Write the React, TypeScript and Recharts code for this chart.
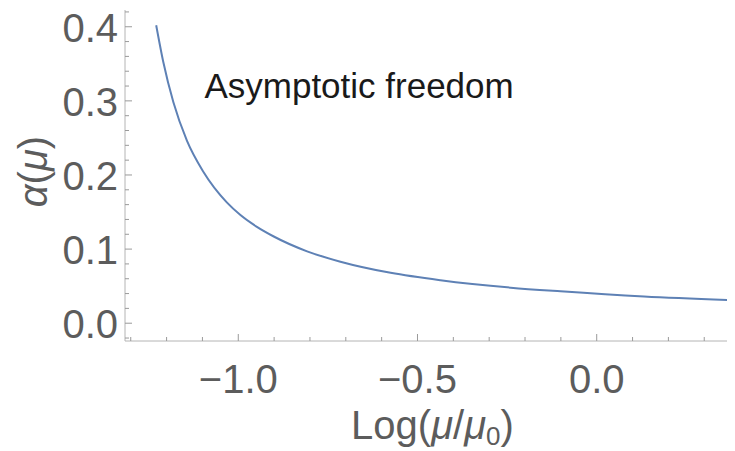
import React from 'react';
import { LineChart, Line, XAxis, YAxis, ReferenceDot } from 'recharts';

// curve: log(mu/mu0) vs alpha(mu)
const logMu = [-1.229, -1.209, -1.181, -1.143, -1.097, -1.032, -0.994, -0.948, -0.901, -0.808, -0.715, -0.575, -0.436, -0.24, -0.101, 0.132, 0.383];
const alphaValues = [0.402, 0.352, 0.298, 0.246, 0.204, 0.163, 0.146, 0.130, 0.117, 0.097, 0.083, 0.068, 0.058, 0.048, 0.043, 0.036, 0.031];

const xTicks = [-1.3, -1.2, -1.1, -1.0, -0.9, -0.8, -0.7, -0.6, -0.5, -0.4, -0.3, -0.2, -0.1, 0.0, 0.1, 0.2, 0.3];
const xMajor = [-1.0, -0.5, 0.0];
const xLabels = ['\u22121.0', '\u22120.5', '0.0'];

const yTicks = [-0.02, 0, 0.02, 0.04, 0.06, 0.08, 0.1, 0.12, 0.14, 0.16, 0.18, 0.2, 0.22, 0.24, 0.26, 0.28, 0.3, 0.32, 0.34, 0.36, 0.38, 0.4, 0.42];
const yMajor = [0, 0.1, 0.2, 0.3, 0.4];
const yLabels = ['0.0', '0.1', '0.2', '0.3', '0.4'];

const data = logMu.map((x, i) => ({ x, alpha: alphaValues[i] }));

const FONT = '"Liberation Sans", Arial, Helvetica, sans-serif';
const LABEL_GRAY = '#5c5c5c';
const TICK_GRAY = '#9a9a9a';
const FRAME_GRAY = '#b4b4b4';

const majorIndex = (list: number[], v: number) => list.findIndex(m => Math.abs(m - v) < 1e-6);

// side: which frame edge the tick sits on; ticks point into the plot
const makeTick = (side: 'bottom' | 'top' | 'left' | 'right', majors: number[], labels?: string[]) => (props: any) => {
  const { x, y, payload } = props;
  const idx = majorIndex(majors, payload.value);
  const len = idx >= 0 ? 7 : 4;
  let line;
  if (side === 'bottom') line = <line x1={x} x2={x} y1={y} y2={y - len} stroke={TICK_GRAY} />;
  else if (side === 'top') line = <line x1={x} x2={x} y1={y} y2={y + len} stroke={TICK_GRAY} />;
  else if (side === 'left') line = <line x1={x} x2={x + len} y1={y} y2={y} stroke={TICK_GRAY} />;
  else line = <line x1={x} x2={x - len} y1={y} y2={y} stroke={TICK_GRAY} />;
  return (
    <g>
      {line}
      {labels && idx >= 0 && side === 'bottom' && (
        <text x={x} y={y + 52} textAnchor="middle" fontSize={40} fontFamily={FONT} fill={LABEL_GRAY}>
          {labels[idx]}
        </text>
      )}
      {labels && idx >= 0 && side === 'left' && (
        <text x={x - 7} y={y + 15} textAnchor="end" fontSize={40} fontFamily={FONT} fill={LABEL_GRAY}>
          {labels[idx]}
        </text>
      )}
    </g>
  );
};

const XTitle = (props: any) => {
  const { viewBox } = props;
  return (
    <text x={viewBox.x + viewBox.width / 2 + 3} y={viewBox.y + 98} textAnchor="middle" fontSize={40} fontFamily={FONT} fill={LABEL_GRAY}>
      Log(<tspan fontStyle="italic">μ</tspan>/<tspan fontStyle="italic">μ</tspan>
      <tspan fontSize={26} dy={6}>0</tspan>
      <tspan dy={-6}>)</tspan>
    </text>
  );
};

const YTitle = (props: any) => {
  const { viewBox } = props;
  const cx = 47;
  const cy = viewBox.y + viewBox.height / 2 - 4;
  return (
    <text x={cx} y={cy} transform={`rotate(-90, ${cx}, ${cy})`} textAnchor="middle" fontSize={40} fontFamily={FONT} fill={LABEL_GRAY}>
      <tspan fontStyle="italic">α</tspan>(<tspan fontStyle="italic">μ</tspan>)
    </text>
  );
};

export default function App() {
  return (
    <div style={{ width: 735, height: 451, margin: '-8px 0 0 -8px' }}>
      <LineChart width={735} height={451} data={data} margin={{ top: 10, right: 1, bottom: 0, left: 0 }}>
        <XAxis
          xAxisId="main"
          dataKey="x"
          type="number"
          domain={[-1.316, 0.383]}
          allowDataOverflow
          ticks={xTicks}
          interval={0}
          height={110}
          tickSize={0}
          tickMargin={0}
          tickLine={false}
          axisLine={{ stroke: FRAME_GRAY }}
          tick={makeTick('bottom', xMajor, xLabels)}
          label={XTitle}
        />
        <XAxis
          xAxisId="top"
          orientation="top"
          dataKey="x"
          type="number"
          domain={[-1.316, 0.383]}
          allowDataOverflow
          ticks={xTicks}
          interval={0}
          height={0}
          tickSize={0}
          tickMargin={0}
          tickLine={false}
          axisLine={{ stroke: FRAME_GRAY }}
          tick={makeTick('top', xMajor)}
        />
        <YAxis
          yAxisId="main"
          type="number"
          domain={[-0.024, 0.4226]}
          allowDataOverflow
          ticks={yTicks}
          interval={0}
          width={125}
          tickSize={0}
          tickMargin={0}
          tickLine={false}
          axisLine={{ stroke: FRAME_GRAY }}
          tick={makeTick('left', yMajor, yLabels)}
          label={YTitle}
        />
        <YAxis
          yAxisId="right"
          orientation="right"
          type="number"
          domain={[-0.024, 0.4226]}
          allowDataOverflow
          ticks={yTicks}
          interval={0}
          width={0}
          tickSize={0}
          tickMargin={0}
          tickLine={false}
          axisLine={{ stroke: FRAME_GRAY }}
          tick={makeTick('right', yMajor)}
        />
        <Line
          xAxisId="main"
          yAxisId="main"
          type="monotone"
          dataKey="alpha"
          stroke="#5e81b5"
          strokeWidth={2}
          dot={false}
          isAnimationActive={false}
        />
        <ReferenceDot
          xAxisId="main"
          yAxisId="main"
          x={-0.663}
          y={0.3207}
          r={0}
          fill="none"
          stroke="none"
          label={{ value: 'Asymptotic freedom', position: 'center', fontSize: 35, fontFamily: FONT, fill: '#1a1a1a' }}
        />
      </LineChart>
    </div>
  );
}
